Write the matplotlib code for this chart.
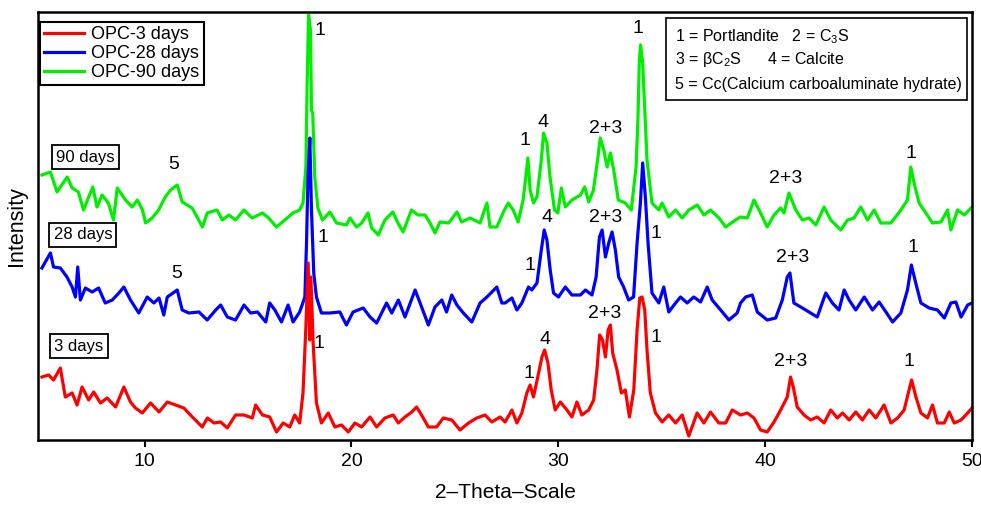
import matplotlib
matplotlib.use("Agg")
import matplotlib.pyplot as plt
from matplotlib.patches import Rectangle

plt.rcParams['font.family'] = ['Liberation Sans', 'DejaVu Sans']
plt.rcParams['mathtext.fontset'] = 'custom'
plt.rcParams['mathtext.rm'] = 'Liberation Sans'
plt.rcParams['mathtext.it'] = 'Liberation Sans:italic'

# ---------------- data (2-theta, arbitrary intensity incl. vertical offset) -------------
green_x = [5.04, 5.45, 5.77, 6.26, 6.5, 6.8, 7.05, 7.3, 7.5, 7.7, 7.95, 8.25, 8.5, 8.68, 9.08, 9.4, 9.65, 9.9, 10.05, 10.37,
           10.68, 11.0, 11.26, 11.58, 11.82, 12.3, 12.8, 13.03, 13.5, 13.76, 14.07, 14.4, 14.8, 15.2, 15.7, 16.0,
           16.38, 16.78, 17.17, 17.5, 17.66, 17.8, 17.86, 17.93, 18.02, 18.07, 18.13, 18.23, 18.38, 18.6, 18.96, 19.28, 19.76, 19.93, 20.25, 20.5,
           20.8, 20.98, 21.3, 21.62, 22.0, 22.25, 22.5, 22.9, 23.22, 23.56, 23.8, 24.04, 24.28, 24.7, 25.1, 25.33, 25.74, 26.22, 26.55, 26.7,
           27.03, 27.35,
           27.58, 27.82, 28.06, 28.3, 28.43, 28.53, 28.64, 28.8, 28.97, 29.18, 29.29, 29.45, 29.6, 29.82, 29.98, 30.15, 30.34, 30.66, 31.07, 31.28,
           31.47, 31.7, 31.92, 32.03, 32.2, 32.36, 32.52, 32.68, 32.9, 33.24, 33.53, 33.76, 33.85, 33.92, 33.98, 34.08, 34.18, 34.29, 34.53, 34.86,
           35.02, 35.34, 35.67, 35.99, 36.31, 36.72, 37.04, 37.36, 37.77, 38.09, 38.57,
           38.81, 39.14, 39.46, 39.78, 40.1, 40.43, 40.75, 40.91, 41.15, 41.48, 41.8, 42.12, 42.45, 42.85, 43.17, 43.66, 43.98, 44.3, 44.62, 44.95,
           45.27, 45.59, 46.08, 46.56, 46.88, 47.04, 47.2, 47.44, 47.77, 48.09, 48.5, 48.82, 48.98, 49.3, 49.63, 50.0]
green_y = [265, 268, 248, 263, 252, 248, 230, 243, 253, 233, 245, 237, 220, 252, 240, 233, 240, 230, 217, 222,
           230, 243, 250, 255, 238, 232, 213, 227, 230, 220, 225, 220, 230, 222, 227, 222,
           213, 220, 227, 230, 237, 273, 357, 425, 410, 330, 327, 263, 232, 220, 228, 217, 215, 222, 213, 217,
           227, 212, 205, 220, 228, 217, 208, 230, 225, 225, 217, 207, 218, 217, 228, 218, 222, 217, 237, 213,
           213, 228,
           237, 230, 218, 240, 263, 282, 250, 237, 243, 280, 307, 297, 263, 230, 227, 252, 233, 240, 245, 253,
           238, 250, 283, 302, 290, 273, 287, 270, 240, 237, 230, 273, 320, 380, 395, 377, 330, 280, 237, 230,
           237, 223, 230, 222, 230, 235, 225, 230, 222, 213, 220,
           223, 222, 240, 227, 213, 225, 232, 227, 247, 230, 220, 222, 215, 233, 220, 210, 220, 222, 233, 220,
           230, 217, 217, 230, 240, 273, 257, 237, 227, 217, 218, 230, 210, 230, 225, 233]

blue_x = [5.04, 5.45, 5.6, 5.93, 6.25, 6.5, 6.66, 6.77, 6.9, 7.14, 7.47, 7.78, 8.1, 8.44, 8.76, 9.0, 9.32, 9.72, 10.13, 10.45,
          10.7, 10.93, 11.1, 11.58, 11.82, 12.14, 12.63, 13.03, 13.44, 13.68, 14.0, 14.4, 14.81, 15.13, 15.46, 15.86,
          16.05, 16.3, 16.62, 16.94, 17.18, 17.5, 17.75, 17.83, 17.9, 17.99, 18.07, 18.18, 18.31, 18.55, 18.96, 19.44, 19.76, 20.08, 20.57, 20.9,
          21.22, 21.7, 21.95, 22.27, 22.59, 23.08, 23.32, 23.72, 24.04, 24.37, 24.6, 24.85, 25.1, 25.41, 25.82, 26.22, 26.55, 27.03, 27.27,
          27.43, 27.76, 28.0, 28.24, 28.56, 28.72, 28.97, 29.18, 29.32, 29.45, 29.61, 29.77, 30.01, 30.34, 30.66, 31.07, 31.31, 31.63, 31.83, 31.99,
          32.12, 32.28, 32.44, 32.6, 32.76, 32.92, 33.16, 33.4, 33.64, 33.81, 33.97, 34.08, 34.21, 34.34, 34.53, 34.86, 35.1, 35.34, 35.67, 35.91,
          36.23, 36.55, 36.88, 37.2, 37.44, 37.85, 38.25, 38.65,
          38.81, 39.06, 39.38, 39.62, 40.1, 40.51, 40.83, 41.07, 41.2, 41.39, 41.72, 42.12, 42.52, 42.93, 43.25, 43.57, 43.82, 44.06, 44.38, 44.79,
          45.19, 45.51, 45.84, 46.16, 46.56, 46.88, 47.07, 47.28, 47.53, 47.93, 48.33, 48.66, 48.98, 49.22, 49.47, 49.79, 50.0]
blue_y = [172, 187, 173, 172, 163, 153, 143, 173, 140, 152, 148, 152, 137, 140, 147, 153, 140, 127, 143, 137,
          142, 125, 143, 150, 130, 127, 128, 120, 130, 135, 123, 120, 135, 127, 128, 118,
          137, 130, 118, 135, 118, 128, 143, 197, 263, 302, 230, 167, 143, 127, 127, 128, 115, 128, 132, 123,
          117, 137, 127, 140, 123, 150, 137, 115, 133, 140, 128, 145, 135, 127, 118, 137, 143, 153, 137,
          137, 142, 130, 137, 153, 150, 157, 190, 210, 200, 170, 147, 143, 153, 145, 145, 150, 145, 163, 203,
          210, 183, 197, 208, 190, 163, 153, 140, 143, 197, 237, 277, 243, 197, 147, 137, 153, 128, 137, 143,
          137, 143, 138, 153, 140, 130, 120, 127,
          137, 143, 145, 128, 120, 122, 140, 163, 167, 137, 133, 128, 123, 147, 137, 130, 150, 140, 130, 143,
          130, 138, 128, 118, 127, 150, 175, 157, 137, 132, 130, 122, 137, 138, 123, 135, 137]

red_x = [5.04, 5.36, 5.6, 5.93, 6.17, 6.5, 6.74, 6.98, 7.3, 7.54, 7.87, 8.19, 8.6, 9.0, 9.32, 9.56, 9.89, 10.29, 10.7, 11.1,
         11.5, 11.9, 12.31, 12.79, 13.04, 13.36, 13.68, 14.0, 14.4, 14.81, 15.21, 15.37, 15.7,
         16.05, 16.38, 16.7, 17.02, 17.26, 17.5, 17.66, 17.8, 17.91, 17.99, 18.04, 18.15, 18.31, 18.55, 18.88, 19.2, 19.52, 19.85, 20.17, 20.49,
         20.9, 21.22, 21.62, 22.02, 22.27, 22.59, 22.92, 23.15, 23.39, 23.72, 24.12, 24.44, 24.85, 25.25, 25.66, 26.06, 26.46, 26.79, 27.19,
         27.43, 27.76, 28.0, 28.24, 28.48, 28.64, 28.8, 29.01, 29.21, 29.34, 29.5, 29.66, 29.85, 30.1, 30.42, 30.66, 30.9, 31.14, 31.47, 31.71,
         31.87, 32.0, 32.14, 32.28, 32.41, 32.52, 32.63, 32.84, 33.05, 33.24, 33.44, 33.65, 33.81, 33.94, 34.05, 34.18, 34.29, 34.45, 34.7, 35.02,
         35.34, 35.67, 35.99, 36.31, 36.71, 37.04, 37.36, 37.76, 38.09, 38.41,
         38.81, 39.14, 39.46, 39.78, 40.1, 40.43, 40.75, 41.07, 41.23, 41.36, 41.55, 41.88, 42.2, 42.52, 42.85, 43.17, 43.49, 43.74, 44.06, 44.38,
         44.7, 45.03, 45.35, 45.75, 46.08, 46.4, 46.72, 46.92, 47.08, 47.29, 47.53, 47.85, 48.09, 48.33, 48.66, 48.9, 49.14, 49.47, 49.79, 50.0]
red_y = [63, 65, 60, 72, 43, 47, 35, 53, 40, 48, 37, 42, 33, 53, 38, 32, 27, 37, 28, 38,
         35, 32, 23, 13, 22, 17, 18, 12, 25, 25, 22, 35, 25,
         23, 8, 17, 13, 25, 17, 47, 113, 177, 100, 163, 97, 37, 17, 27, 13, 15, 8, 17, 13,
         23, 13, 22, 25, 17, 23, 28, 33, 25, 13, 13, 22, 20, 10, 17, 22, 25, 18, 23,
         18, 30, 17, 27, 47, 55, 43, 63, 83, 90, 77, 50, 30, 38, 30, 23, 38, 25, 30, 40,
         70, 105, 100, 83, 110, 115, 87, 70, 47, 50, 23, 50, 110, 142, 143, 130, 90, 47, 27, 18,
         25, 17, 25, 4, 27, 17, 28, 17, 17, 30,
         25, 27, 22, 10, 8, 18, 30, 43, 63, 53, 33, 25, 20, 23, 17, 30, 22, 27, 20, 28,
         20, 30, 22, 35, 17, 22, 30, 47, 60, 43, 27, 22, 35, 17, 17, 28, 17, 20, 27, 32]

series_labels = ['OPC-3 days', 'OPC-28 days', 'OPC-90 days']
x_ticks = [10, 20, 30, 40, 50]

# peak labels: (2theta, intensity, text)
peak_labels = [
    (18.47, 410, '1'), (11.40, 276, '5'), (28.40, 300, '1'), (29.27, 318, '4'), (32.28, 312, '2+3'),
    (33.87, 412, '1'), (40.99, 262, '2+3'), (47.05, 287, '1'),
    (18.62, 203, '1'), (11.55, 167, '5'), (28.64, 175, '1'), (29.47, 222, '4'), (32.28, 222, '2+3'),
    (34.70, 207, '1'), (41.33, 183, '2+3'), (47.14, 192, '1'),
    (18.43, 97, '1'), (28.60, 67, '1'), (29.37, 100, '4'), (32.23, 127, '2+3'),
    (34.70, 103, '1'), (41.23, 78, '2+3'), (46.95, 78, '1'),
]
day_labels = [(7.14, 283, '90 days'), (7.02, 205, '28 days'), (6.83, 94, '3 days')]

# ---------------- figure ----------------
fig = plt.figure(figsize=(9.81, 5.05), dpi=100)
ax = fig.add_axes([38 / 981, 1 - 440 / 505, 934 / 981, 428 / 505])

RED, BLUE, GREEN = '#FF0000', '#0000FF', '#00EE00'
lw = 2.3
lg, = ax.plot(green_x, green_y, color=GREEN, lw=lw, label=series_labels[2])
lb, = ax.plot(blue_x, blue_y, color=BLUE, lw=lw, label=series_labels[1])
lr, = ax.plot(red_x, red_y, color=RED, lw=lw, label=series_labels[0])

ax.set_xlim(4.85, 50)
ax.set_ylim(0, 428)
ax.set_xticks(x_ticks)
ax.set_yticks([])
ax.tick_params(axis='x', direction='out', length=5, width=1.5, labelsize=14, pad=4)
for s in ax.spines.values():
    s.set_linewidth(1.8)
ax.set_xlabel('2\u2013Theta\u2013Scale', fontsize=15, labelpad=10)
ax.set_ylabel('Intensity', fontsize=15.5, labelpad=8)

leg = ax.legend(handles=[lr, lb, lg], loc='upper left', bbox_to_anchor=(0.002, 0.977),
                borderaxespad=0, fontsize=13, frameon=True, fancybox=False,
                edgecolor='black', framealpha=1, labelspacing=0.1, borderpad=0.25,
                handlelength=2.2, handletextpad=0.4)
leg.get_frame().set_linewidth(1.5)

for x, y, t in peak_labels:
    ax.text(x, y, t, fontsize=14, ha='center', va='center')

for x, y, t in day_labels:
    ax.text(x, y, t, fontsize=12, ha='center', va='center',
            bbox=dict(boxstyle='square,pad=0.25', fc='white', ec='black', lw=1.3))

ax.add_patch(Rectangle((0.672, 0.794), 0.323, 0.192, transform=ax.transAxes,
                       fill=False, ec='black', lw=1.2, zorder=5))
ax.text(0.682, 0.942, '1 = Portlandite   2 = C$_3$S', transform=ax.transAxes,
        fontsize=11.5, ha='left', va='center')
ax.text(0.682, 0.890, '3 = \u03b2C$_2$S      4 = Calcite', transform=ax.transAxes,
        fontsize=11.5, ha='left', va='center')
ax.text(0.682, 0.830, '5 = Cc(Calcium carboaluminate hydrate)', transform=ax.transAxes,
        fontsize=11.5, ha='left', va='center')

fig.savefig('out.png', dpi=100)
